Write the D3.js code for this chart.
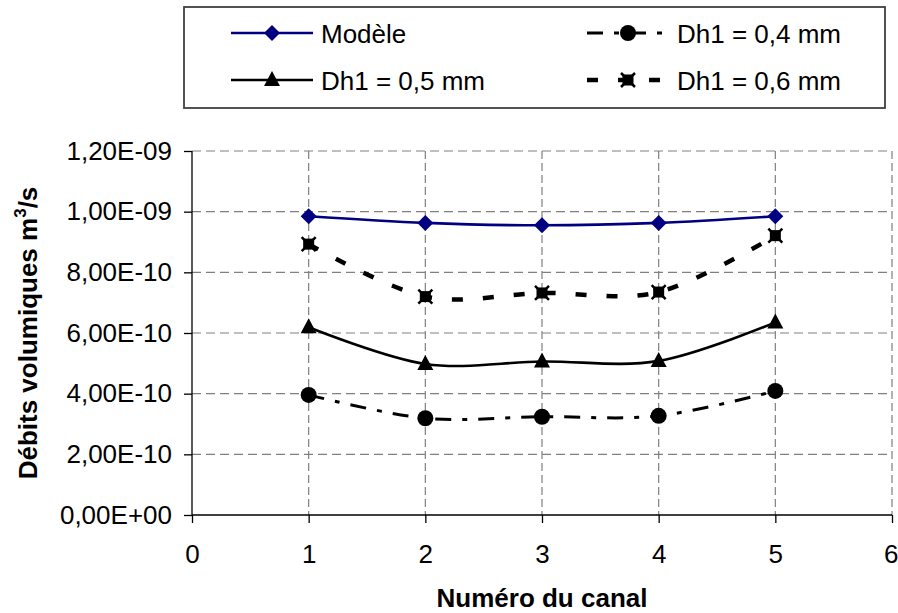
<!DOCTYPE html>
<html><head><meta charset="utf-8">
<script src="https://cdn.jsdelivr.net/npm/d3@7"></script>
<style>body{margin:0;background:#fff}svg{display:block}text{font-family:"Liberation Sans",Arial,sans-serif}</style>
</head><body>
<svg id="c" width="898" height="613"></svg>
<script>
const channels = [1, 2, 3, 4, 5];
const modele = [9.85e-10, 9.63e-10, 9.55e-10, 9.63e-10, 9.85e-10];
const dh04 = [3.96e-10, 3.19e-10, 3.24e-10, 3.27e-10, 4.09e-10];
const dh05 = [6.19e-10, 4.98e-10, 5.06e-10, 5.08e-10, 6.35e-10];
const dh06 = [8.93e-10, 7.20e-10, 7.32e-10, 7.35e-10, 9.21e-10];
const xTicks = [0, 1, 2, 3, 4, 5, 6];
const yTicks = [0, 2e-10, 4e-10, 6e-10, 8e-10, 1e-9, 1.2e-9];
const yTickLabels = ["0,00E+00", "2,00E-10", "4,00E-10", "6,00E-10", "8,00E-10", "1,00E-09", "1,20E-09"];
const seriesNames = ["Modèle", "Dh1 = 0,4 mm", "Dh1 = 0,5 mm", "Dh1 = 0,6 mm"];

const svg = d3.select("#c");
const L = 192, R = 892, T = 151, B = 515;
const x = d3.scaleLinear().domain([0, 6]).range([L, R]);
const y = d3.scaleLinear().domain([0, 1.2e-9]).range([B, T]);

// grid
const g = svg.append("g");
g.selectAll(".hg").data(yTicks.slice(1)).join("line")
  .attr("x1", L).attr("x2", R).attr("y1", d => y(d)).attr("y2", d => y(d))
  .attr("stroke", "#808080").attr("stroke-width", 1.2).attr("stroke-dasharray", "9,5");
g.selectAll(".vg").data(xTicks.slice(1)).join("line")
  .attr("x1", d => x(d)).attr("x2", d => x(d)).attr("y1", T).attr("y2", B)
  .attr("stroke", "#808080").attr("stroke-width", 1.2).attr("stroke-dasharray", "8,4");

// axes
const yAxis = d3.axisLeft(y).tickValues(yTicks).tickSize(8).tickPadding(12)
  .tickFormat((d, i) => yTickLabels[i]);
const ya = svg.append("g").attr("transform", `translate(${L},0)`).call(yAxis);
const xAxis = d3.axisBottom(x).tickValues(xTicks).tickSize(8).tickPadding(22).tickFormat(d => d);
const xa = svg.append("g").attr("transform", `translate(0,${B})`).call(xAxis);
[ya, xa].forEach(a => {
  a.select(".domain").attr("stroke", "#000").attr("stroke-width", 1.3);
  a.selectAll(".tick line").attr("stroke", "#000").attr("stroke-width", 1.3);
  a.selectAll(".tick text").attr("font-size", 26).attr("fill", "#000")
    .attr("font-family", '"Liberation Sans", Arial, sans-serif');
});
ya.select(".domain").attr("d", `M0,${B}V${T}`);
xa.select(".domain").attr("d", `M${L},0H${R}`);
xa.selectAll(".tick text").filter(d => d === 6).attr("text-anchor", "end").attr("x", 6);

// titles
svg.append("text").attr("x", (L + R) / 2).attr("y", 607).attr("text-anchor", "middle")
  .attr("font-size", 26).attr("font-weight", "bold").text("Numéro du canal");
const yt = svg.append("text").attr("transform", `translate(37,${(T + B) / 2}) rotate(-90)`)
  .attr("text-anchor", "middle").attr("font-size", 26).attr("font-weight", "bold");
yt.append("tspan").text("Débits volumiques m");
yt.append("tspan").attr("font-size", 17).attr("dy", -11).text("3");
yt.append("tspan").attr("dy", 11).text("/s");

// series
const line = d3.line().x((d, i) => x(channels[i])).y(d => y(d)).curve(d3.curveCatmullRom.alpha(0));
const styles = [
  {data: modele, color: "#000080", w: 2.6, dash: null, marker: "diamond"},
  {data: dh04, color: "#000", w: 3, dash: "16,11,5,11", marker: "circle"},
  {data: dh05, color: "#000", w: 2.6, dash: null, marker: "triangle"},
  {data: dh06, color: "#000", w: 4.5, dash: "11,20", marker: "star"}
];
function drawMarker(sel, type, color) {
  if (type === "diamond") sel.append("path").attr("d", "M0,-8L8,0L0,8L-8,0Z").attr("fill", color);
  else if (type === "circle") sel.append("circle").attr("r", 8).attr("fill", color);
  else if (type === "triangle") sel.append("path").attr("d", "M0,-9L8,6L-8,6Z").attr("fill", color);
  else {
    sel.append("rect").attr("x", -5.5).attr("y", -5.5).attr("width", 11).attr("height", 11).attr("fill", color);
    sel.append("path").attr("d", "M-7,-7L7,7M7,-7L-7,7").attr("stroke", color).attr("stroke-width", 2.5);
  }
}
const order = [3, 2, 1, 0];
order.forEach(k => {
  const s = styles[k];
  svg.append("path").attr("d", line(s.data)).attr("fill", "none").attr("stroke", s.color)
    .attr("stroke-width", s.w).attr("stroke-dasharray", s.dash);
  s.data.forEach((v, i) => {
    const m = svg.append("g").attr("transform", `translate(${x(channels[i])},${y(v)})`);
    drawMarker(m, s.marker, s.color);
  });
});

// legend
const lg = svg.append("g");
lg.append("rect").attr("x", 184).attr("y", 7).attr("width", 701).attr("height", 101)
  .attr("fill", "#fff").attr("stroke", "#404040").attr("stroke-width", 1.8);
const pos = [[231, 33], [587, 33], [231, 80], [587, 80]];
styles.forEach((s, k) => {
  const [px, py] = pos[k];
  lg.append("line").attr("x1", px).attr("x2", px + 82).attr("y1", py).attr("y2", py)
    .attr("stroke", s.color).attr("stroke-width", s.w).attr("stroke-dasharray", s.dash);
  drawMarker(lg.append("g").attr("transform", `translate(${px + 41},${py})`), s.marker, s.color);
  lg.append("text").attr("x", px + 90).attr("y", py + 9.5).attr("font-size", 26).text(seriesNames[k]);
});
</script>
</body></html>
